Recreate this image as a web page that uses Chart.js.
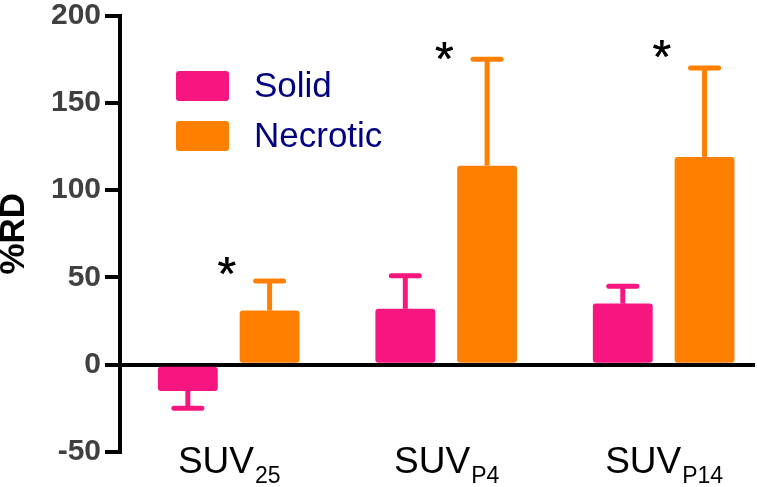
<!DOCTYPE html>
<html>
<head>
<meta charset="utf-8">
<script src="https://cdn.jsdelivr.net/npm/chart.js@4"></script>
<style>
  html, body { margin: 0; padding: 0; background: #fff; overflow: hidden; }
</style>
</head>
<body>
<canvas id="canvas" width="757" height="487"></canvas>
<script>
// SUV subscripts for each group
const categories = ['25', 'P4', 'P14'];
const seriesNames = ['Solid', 'Necrotic'];

// mean %RD and SD
const solid = [-15, 32, 35];
const solidSD = [10, 19, 10];
const necrotic = [31, 114, 119];
const necroticSD = [17, 61, 51];

// where the significance stars sit (in %RD units)
const starAt = [57, 180, 181];

const yMin = -50, yMax = 200, yStep = 50;

const colors = ['#F7157F', '#FF8000'];
const FONT = '"Liberation Sans", Arial, sans-serif';

const extras = {
    id: 'extras',
    afterDatasetsDraw(chart) {
        const ctx = chart.ctx;
        const xs = chart.scales.x;
        const ys = chart.scales.y;
        const sds = [solidSD, necroticSD];

        // error bars
        sds.forEach((sd, d) => {
            const meta = chart.getDatasetMeta(d);
            const color = chart.data.datasets[d].backgroundColor;
            meta.data.forEach((bar, i) => {
                const v = chart.data.datasets[d].data[i].y;
                const end = v + (v < 0 ? -sd[i] : sd[i]);
                const yEnd = ys.getPixelForValue(end);
                ctx.save();
                ctx.strokeStyle = color;
                ctx.lineWidth = 5;
                ctx.beginPath();
                ctx.moveTo(bar.x, bar.y);
                ctx.lineTo(bar.x, yEnd);
                ctx.stroke();
                ctx.lineCap = 'round';
                ctx.beginPath();
                ctx.moveTo(bar.x - 14, yEnd);
                ctx.lineTo(bar.x + 14, yEnd);
                ctx.stroke();
                ctx.restore();
            });
        });

        // stars
        ctx.save();
        ctx.fillStyle = '#000';
        ctx.font = '48px ' + FONT;
        ctx.textAlign = 'left';
        ctx.textBaseline = 'alphabetic';
        const m = ctx.measureText('*');
        starAt.forEach((s, i) => {
            const cx = xs.getPixelForValue(i) - 2.5;
            const cy = ys.getPixelForValue(s);
            const bx = cx - (m.actualBoundingBoxRight - m.actualBoundingBoxLeft) / 2 + m.actualBoundingBoxLeft;
            const by = cy + (m.actualBoundingBoxAscent - m.actualBoundingBoxDescent) / 2;
            ctx.fillText('*', bx, by);
            ctx.fillText('*', bx + 0.6, by);
        });
        ctx.restore();

        // category labels with subscripts
        ctx.save();
        ctx.fillStyle = '#000';
        ctx.textBaseline = 'alphabetic';
        ctx.textAlign = 'left';
        const base = chart.chartArea.bottom + 21;
        categories.forEach((sub, i) => {
            ctx.font = '37px ' + FONT;
            const w1 = ctx.measureText('SUV').width;
            ctx.font = '23px ' + FONT;
            const w2 = ctx.measureText(sub).width;
            const cx = xs.getPixelForValue(i);
            const x0 = cx - (w1 + w2) / 2;
            ctx.font = '37px ' + FONT;
            ctx.fillText('SUV', x0, base);
            ctx.font = '23px ' + FONT;
            ctx.fillText(sub, x0 + w1 + 1, base + 10);
        });
        ctx.restore();

        // legend
        ctx.save();
        chart.data.datasets.forEach((ds, d) => {
            const top = 71 + d * 50;
            ctx.fillStyle = ds.backgroundColor;
            ctx.beginPath();
            ctx.roundRect(176, top, 53, 30, 3);
            ctx.fill();
            ctx.fillStyle = '#000080';
            ctx.font = '35px ' + FONT;
            ctx.textBaseline = 'middle';
            ctx.fillText(ds.label, 254, top + 16);
        });
        ctx.restore();
    }
};

new Chart(document.getElementById('canvas'), {
    type: 'bar',
    data: {
        datasets: [
            {
                label: seriesNames[0],
                data: solid.map((v, i) => ({x: i, y: v})),
                backgroundColor: colors[0],
                borderRadius: 3,
                borderSkipped: false
            },
            {
                label: seriesNames[1],
                data: necrotic.map((v, i) => ({x: i, y: v})),
                backgroundColor: colors[1],
                borderRadius: 3,
                borderSkipped: false
            }
        ]
    },
    options: {
        responsive: false,
        animation: false,
        devicePixelRatio: 1,
        categoryPercentage: 0.752,
        barPercentage: 0.732,
        layout: {
            padding: {top: 15.5, bottom: 35, right: 2, left: 0}
        },
        plugins: {
            legend: {display: false},
            tooltip: {enabled: false}
        },
        scales: {
            x: {
                type: 'linear',
                offset: false,
                min: -0.5,
                max: 2.42,
                ticks: {display: false},
                grid: {display: false, drawTicks: false},
                border: {display: false},
                afterBuildTicks: (scale) => {
                    scale.ticks = categories.map((c, i) => ({value: i}));
                },
                afterFit: (scale) => {
                    scale.height = 0;
                    scale.paddingLeft = 0;
                    scale.paddingRight = 0;
                }
            },
            y: {
                min: yMin,
                max: yMax,
                afterFit: (scale) => {
                    scale.width = 120;
                    scale.paddingTop = 0;
                    scale.paddingBottom = 0;
                },
                ticks: {
                    stepSize: yStep,
                    padding: 4,
                    color: '#404040',
                    font: {family: FONT, size: 30, weight: 'bold', lineHeight: 1}
                },
                border: {display: true, color: '#000', width: 4},
                grid: {
                    drawOnChartArea: true,
                    drawTicks: true,
                    tickLength: 15,
                    tickColor: '#000',
                    tickWidth: 4,
                    lineWidth: 4,
                    color: (c) => (c.tick && c.tick.value === 0) ? '#000' : 'rgba(0,0,0,0)'
                },
                title: {
                    display: true,
                    text: '%RD',
                    color: '#000',
                    padding: 0,
                    font: {family: FONT, size: 35, weight: 'bold', lineHeight: 0.8}
                }
            }
        }
    },
    plugins: [extras]
});
</script>
</body>
</html>
